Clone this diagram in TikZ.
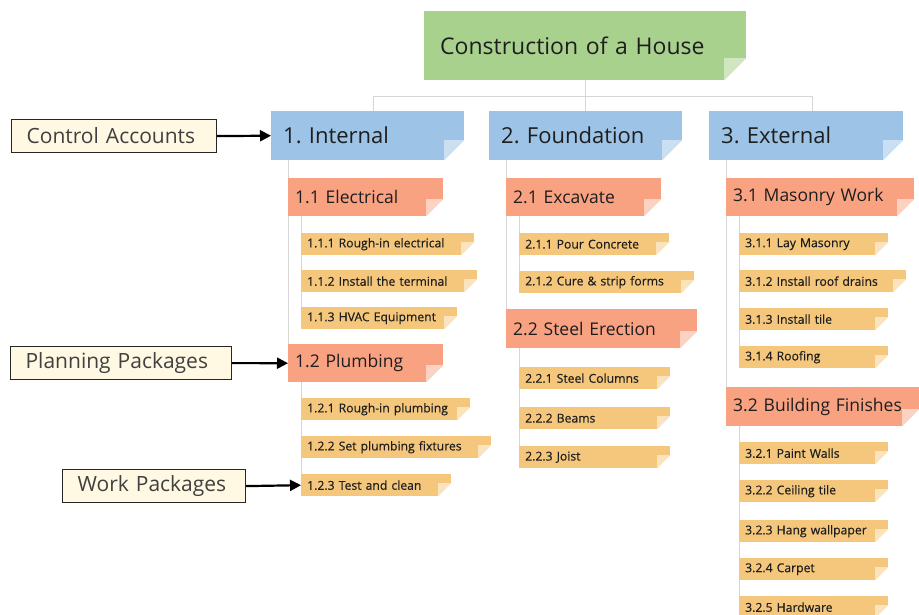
\documentclass[tikz,border=0pt]{standalone}
\usepackage{fontspec}
\setmainfont{Open Sans}
\newfontfamily\semifont[FakeBold=0.3]{Open Sans}
\usetikzlibrary{arrows.meta,backgrounds,calc}
\frenchspacing

\definecolor{grn}{HTML}{A9D18E}
\definecolor{grnl}{HTML}{CFE6C0}
\definecolor{blu}{HTML}{9DC3E6}
\definecolor{blul}{HTML}{CBDFF2}
\definecolor{sal}{HTML}{F8A282}
\definecolor{sall}{HTML}{FCD3C2}
\definecolor{ylw}{HTML}{F4C77C}
\definecolor{ylwl}{HTML}{FAE4C0}
\definecolor{cream}{HTML}{FFF8E2}
\definecolor{ink}{HTML}{1E1E1E}
\definecolor{linegray}{HTML}{D6D6D6}

\tikzset{
  x=1pt, y=-1pt,
  foldsz/.store in=\foldsz,
  foldcol/.store in=\foldcol,
  pad/.store in=\cardpad,
  w/.code={\pgfmathsetlengthmacro\cardtw{#1pt-2*\cardpad pt}%
    \edef\next{\noexpand\pgfkeysalso{text width=\cardtw, inner xsep=\cardpad pt}}\next},
  card/.style={anchor=north west, inner ysep=0pt, align=left, text=ink,
    path picture={
      \coordinate (se) at (path picture bounding box.south east);
      \fill[white] (se) -- ($(se)+(-\foldsz pt,0pt)$) -- ($(se)+(0pt,\foldsz pt)$) -- cycle;
      \fill[\foldcol] ($(se)+(-\foldsz pt,0pt)$) -- ($(se)+(0pt,\foldsz pt)$)
        -- ($(se)+(-\foldsz pt,\foldsz pt)$) -- cycle;
    }},
  L0/.style={card, fill=grn, foldcol=grnl, foldsz=22, pad=16,
    minimum height=69pt, font=\fontsize{23}{27}\selectfont},
  L1/.style={card, fill=blu, foldcol=blul, foldsz=20, pad=12,
    minimum height=49pt, font=\fontsize{22}{26}\selectfont},
  L2/.style={card, fill=sal, foldcol=sall, foldsz=17, pad=7,
    minimum height=38pt, font=\fontsize{17.5}{21}\selectfont},
  L3/.style={card, fill=ylw, foldcol=ylwl, foldsz=13, pad=6,
    minimum height=22pt, font=\semifont\fontsize{12.2}{14}\selectfont},
  tag/.style={draw=black!85, line width=1.2pt, fill=cream, text=black!75,
    anchor=north west, inner ysep=0pt, inner xsep=15pt, minimum height=33pt,
    align=left, font=\fontsize{21}{25}\selectfont},
  conn/.style={draw=linegray, line width=1pt},
  pointer/.style={draw=black, line width=2.2pt,
    -{Triangle[length=11pt,width=11pt]}},
}

\begin{document}
\begin{tikzpicture}
\useasboundingbox (0,0) rectangle (919,615);
\clip (0,0) rectangle (919,615);

% root
\node[L0, w=322] (root) at (424,11) {Construction of a House};

% control accounts
\node[L1, w=193] (n1) at (271,111) {1. Internal};
\node[L1, w=193] (n2) at (489,111) {2. Foundation};
\node[L1, w=194] (n3) at (709,111) {3. External};

% planning packages
\node[L2, w=155] (n11) at (288,178) {1.1 Electrical};
\node[L2, w=155] (n12) at (288,344) {1.2 Plumbing};
\node[L2, w=155] (n21) at (506,178) {2.1 Excavate};
\node[L2, w=191, minimum height=39pt] (n22) at (506,309) {2.2 Steel Erection};
\node[L2, w=188] (n31) at (726,178) {3.1 Masonry Work};
\node[L2, w=193, minimum height=39pt] (n32) at (726,387) {3.2 Building Finishes};

% work packages
\node[L3, w=173] (n111) at (301,233) {1.1.1 Rough-in electrical};
\node[L3, w=176] (n112) at (301,270) {1.1.2 Install the terminal};
\node[L3, w=156] (n113) at (301,307) {1.1.3 HVAC Equipment};
\node[L3, w=169] (n121) at (301,398) {1.2.1 Rough-in plumbing};
\node[L3, w=190] (n122) at (301,436) {1.2.2 Set plumbing fixtures};
\node[L3, w=150] (n123) at (301,474) {1.2.3 Test and clean};

\node[L3, w=150] (n211) at (519,233) {2.1.1 Pour Concrete};
\node[L3, w=175] (n212) at (519,271) {2.1.2 Cure \& strip forms};
\node[L3, w=151] (n221) at (519,367) {2.2.1 Steel Columns};
\node[L3, w=151] (n222) at (519,407) {2.2.2 Beams};
\node[L3, w=151] (n223) at (519,446) {2.2.3 Joist};

\node[L3, w=149] (n311) at (739,233) {3.1.1 Lay Masonry};
\node[L3, w=167] (n312) at (739,270) {3.1.2 Install roof drains};
\node[L3, w=149] (n313) at (739,308) {3.1.3 Install tile};
\node[L3, w=149] (n314) at (739,346) {3.1.4 Roofing};
\node[L3, w=149] (n321) at (739,442) {3.2.1 Paint Walls};
\node[L3, w=149] (n322) at (739,480) {3.2.2 Ceiling tile};
\node[L3, w=149] (n323) at (739,520) {3.2.3 Hang wallpaper};
\node[L3, w=149] (n324) at (739,558) {3.2.4 Carpet};
\node[L3, w=149] (n325) at (739,596) {3.2.5 Hardware};

% legend tags
\node[tag, text width=175pt] (ca) at (11,119) {Control Accounts};
\node[tag, text width=191pt] (pp) at (10,346) {Planning Packages};
\node[tag, text width=153pt] (wp) at (62,469) {Work Packages};

\draw[pointer] (ca.east) -- (n1.west);
\draw[pointer] (pp.east) -- (n12.west);
\draw[pointer] (wp.east) -- (n123.west);

% tree connectors
\begin{scope}[on background layer]
  \coordinate (bus) at (0,97);
  \coordinate (b1) at ([xshift=5.5pt]n1.north);
  \coordinate (b3) at ([xshift=6pt]n3.north);
  \draw[conn] (root.south) -- (root.south |- bus);
  \draw[conn] (b1) -- (b1 |- bus) -- (b3 |- bus) -- (b3);
  \draw[conn] (n2.north) -- (n2.north |- bus);

  \draw[conn] (n1.south -| n12.west) -- (n12.west);
  \draw[conn] (n2.south -| n22.west) -- (n22.west);
  \draw[conn] (n3.south -| n32.west) -- (n32.west);

  \draw[conn] (n11.south -| n113.west) -- (n113.west);
  \draw[conn] (n12.south -| n123.west) -- (n123.west);
  \draw[conn] (n21.south -| n212.west) -- (n212.west);
  \draw[conn] (n22.south -| n223.west) -- (n223.west);
  \draw[conn] (n31.south -| n314.west) -- (n314.west);
  \draw[conn] (n32.south -| n325.west) -- (n325.west);
\end{scope}
\end{tikzpicture}
\end{document}
